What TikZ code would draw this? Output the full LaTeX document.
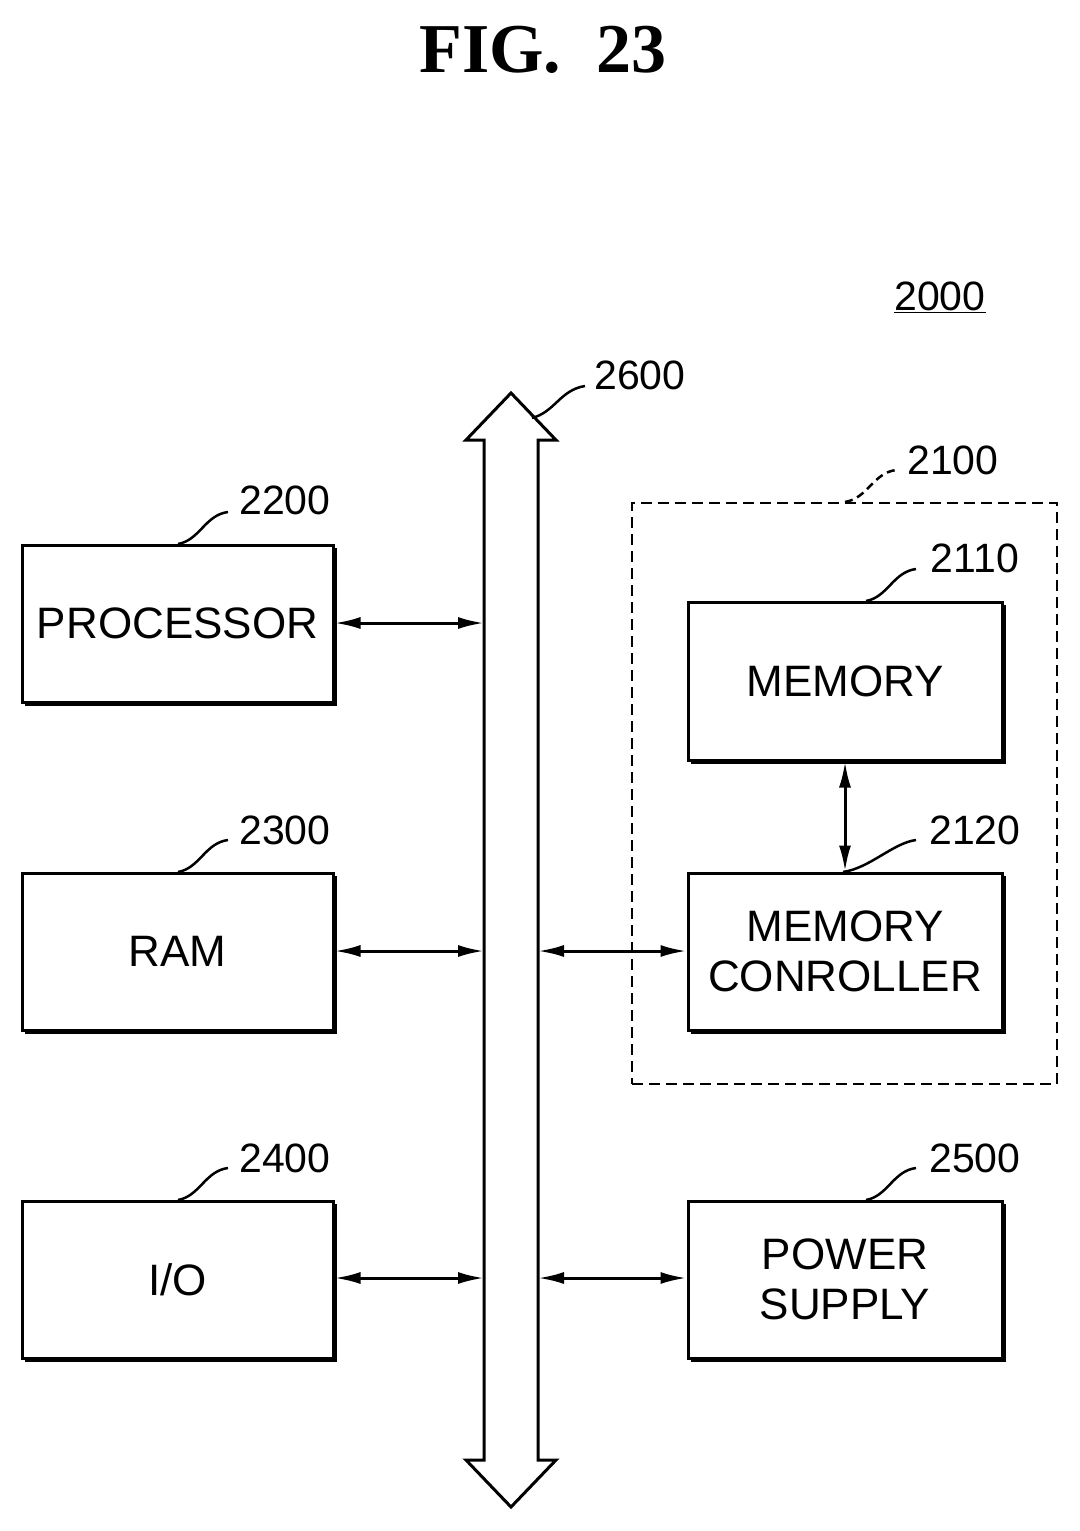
\documentclass[tikz,border=0pt]{standalone}
\usepackage{fontspec}
\setmainfont{Liberation Sans}
\newfontfamily\titlefont{Liberation Serif}
\usetikzlibrary{arrows.meta}
\begin{document}
\begin{tikzpicture}[x=1pt,y=-1pt,
  box/.style={draw,line width=3pt,font=\fontsize{44}{50}\selectfont,align=center,inner sep=0},
  lbl/.style={font=\fontsize{41}{44}\selectfont},
  conn/.style={line width=3pt,{Latex[length=26pt,width=12pt]}-{Latex[length=26pt,width=12pt]}},
  lead/.style={line width=2.5pt}]
\useasboundingbox (0,0) rectangle (1079,1531);
\node[font=\titlefont\bfseries\fontsize{70}{74}\selectfont] (title) at (543,50) {FIG.\ \ 23};
\newcommand{\blk}[6]{%
  \node[box,minimum width=#4-#2,minimum height=#5-#3] (#1) at ({(#2+#4)/2},{(#3+#5)/2}) {#6};
  \draw[line width=3pt] (#2+3,#5+2.5) -- (#4+2.5,#5+2.5) -- (#4+2.5,#3+3);}
\blk{proc}{22}{545}{333}{702}{PROCESSOR}
\blk{ram}{22}{873}{333}{1030}{RAM}
\blk{io}{22}{1201}{333}{1358}{I/O}
\blk{mem}{688}{602}{1002}{760}{MEMORY}
\blk{mc}{688}{873}{1002}{1030}{MEMORY\\CONROLLER}
\blk{ps}{688}{1201}{1002}{1358}{POWER\\SUPPLY}
\node[draw,dash pattern=on 11pt off 6pt,line width=2.5pt,minimum width=425,minimum height=581,inner sep=0] (grp) at (844.5,793.5) {};
\draw[line width=3pt,fill=white] (511,393) -- (556,440) -- (538,440) -- (538,1460) -- (556,1460) -- (511,1507) -- (466,1460) -- (484,1460) -- (484,440) -- (466,440) -- cycle;
\coordinate (bl1) at (484,623); \coordinate (bl2) at (484,951); \coordinate (bl3) at (484,1278);
\coordinate (br2) at (538,951); \coordinate (br3) at (538,1278);
\draw[conn] (proc.east |- bl1) -- (bl1);
\draw[conn] (ram.east |- bl2) -- (bl2);
\draw[conn] (io.east |- bl3) -- (bl3);
\draw[conn] (br2) -- (mc.west |- br2);
\draw[conn] (br3) -- (ps.west |- br3);
\draw[conn] (mem.south) -- (mc.north);
\node[lbl] (l2200) at (285,500) {2200};
\node[lbl] (l2300) at (285,830) {2300};
\node[lbl] (l2400) at (285,1158) {2400};
\node[lbl] (l2110) at (975,558) {2110};
\node[lbl] (l2120) at (975,830) {2120};
\node[lbl] (l2500) at (975,1158) {2500};
\node[lbl] (l2100) at (953,460) {2100};
\node[lbl] (l2600) at (640,375) {2600};
\node[lbl] (l2000) at (940,297) {\underline{2000}};
\draw[lead] (178,544) .. controls (200,540) and (205,515) .. (228,512);
\draw[lead] (178,872) .. controls (200,868) and (205,843) .. (228,840);
\draw[lead] (178,1200) .. controls (200,1196) and (205,1171) .. (228,1168);
\draw[lead] (866,601) .. controls (888,597) and (893,572) .. (916,569);
\draw[lead] (843,872) .. controls (870,868) and (893,843) .. (916,840);
\draw[lead] (866,1200) .. controls (888,1196) and (893,1171) .. (916,1168);
\draw[lead,dash pattern=on 8pt off 5pt] (845,502) .. controls (868,498) and (873,473) .. (896,470);
\draw[lead] (532,418) .. controls (555,412) and (560,390) .. (585,386);
\end{tikzpicture}
\end{document}
